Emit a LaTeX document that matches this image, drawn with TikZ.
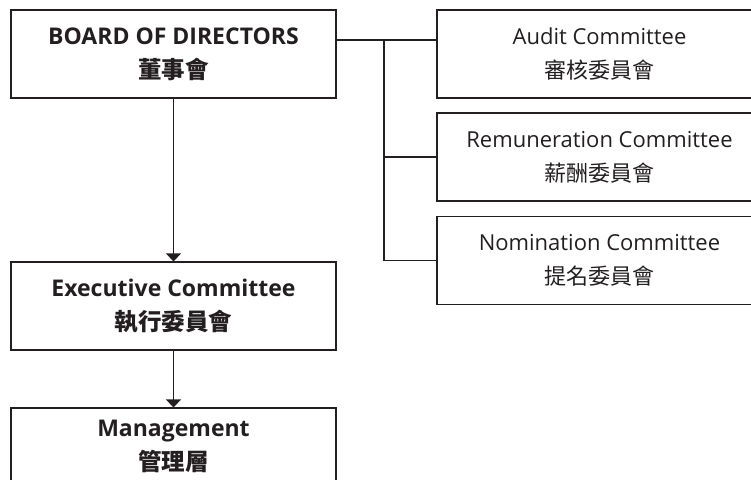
\documentclass[tikz,border=0pt]{standalone}
\usepackage{fontspec}
\setmainfont{Open Sans}
\newfontfamily\cjk{Noto Sans CJK TC}
\usetikzlibrary{arrows.meta}
\definecolor{ink}{HTML}{231F20}
\newcommand{\boldcjk}{\cjk\bfseries\fontsize{23.5pt}{34pt}\selectfont}
\newcommand{\regcjk}{\cjk\fontsize{22pt}{34pt}\selectfont}
\begin{document}
\begin{tikzpicture}[x=1pt,y=-1pt,
  box/.style={draw=ink, line width=1.1pt, minimum width=325pt, minimum height=88pt,
    inner sep=0pt, align=center, text=ink, font={\fontsize{22pt}{34pt}\selectfont}},
  boldbox/.style={box, font={\bfseries\fontsize{23pt}{34pt}\selectfont}},
  label/.style={inner sep=0pt, align=center, text=ink, font={\bfseries\fontsize{23pt}{34pt}\selectfont}},
  link/.style={draw=ink, line width=1.1pt},
  arr/.style={link, -{Triangle[width=15pt,length=8pt]}}]
\useasboundingbox (0,0) rectangle (751,479);
\clip (0,0) rectangle (751,479);
\node[boldbox] (board) at (173.5,54) {BOARD OF DIRECTORS\\{\boldcjk 董事會}};
\node[boldbox] (exec) at (173.5,306) {Executive Committee\\{\boldcjk 執行委員會}};
\node[box] (mgmt) at (173.5,452) {};
\node[label] (mgmttxt) at (173.5,446) {Management\\{\boldcjk 管理層}};
\node[box] (audit) at (599.5,54) {Audit Committee\\{\regcjk 審核委員會}};
\node[box] (remun) at (599.5,157) {Remuneration Committee\\{\regcjk 薪酬委員會}};
\node[box] (nom) at (599.5,260.5) {Nomination Committee\\{\regcjk 提名委員會}};
\coordinate (bus) at (384,40);
\draw[link] ([yshift=14pt]board.east) -- ([yshift=14pt]audit.west);
\draw[link] (bus) |- (nom.west);
\draw[link] (bus |- remun.west) -- (remun.west);
\draw[arr] (board.south) -- (exec.north);
\draw[arr] (exec.south) -- (mgmt.north);
\end{tikzpicture}
\end{document}
